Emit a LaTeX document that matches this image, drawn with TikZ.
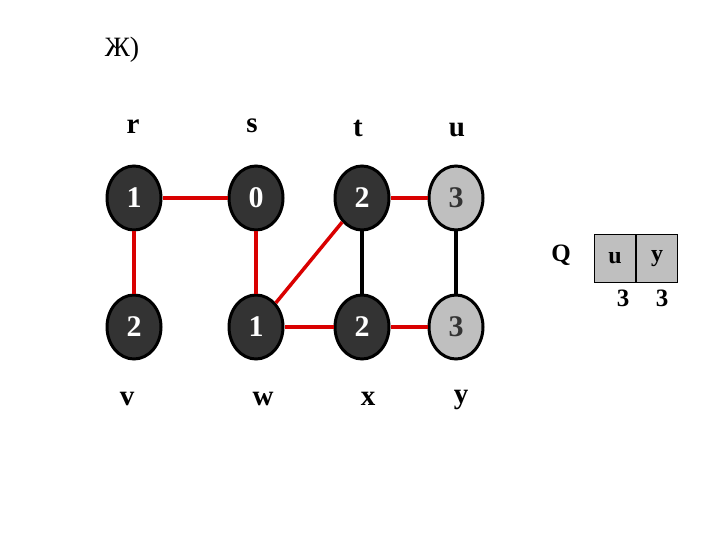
\documentclass[tikz,border=0pt]{standalone}
\usepackage{fontspec}
\setmainfont{Liberation Serif}
\usetikzlibrary{shapes.geometric}
\begin{document}
\begin{tikzpicture}[x=1pt,y=-1pt,
  vert/.style={ellipse,draw=black,line width=3pt,minimum width=54pt,minimum height=64pt,inner sep=0pt,font=\fontsize{30}{32}\selectfont\bfseries},
  dark/.style={vert,fill=black!80,text=white},
  light/.style={vert,fill=black!25,text=black!80},
  lbl/.style={font=\fontsize{29}{31}\selectfont\bfseries},
  redge/.style={draw=red!85!black,line width=3.5pt},
  bedge/.style={draw=black,line width=3.5pt},
  qbox/.style={draw=black,line width=1.2pt,fill=black!25,minimum width=41pt,minimum height=48pt,inner sep=0pt,anchor=north west,font=\fontsize{24}{26}\selectfont\bfseries},
  qlbl/.style={font=\fontsize{25}{27}\selectfont\bfseries}]
\useasboundingbox (0,0) rectangle (720,540);
\node[font=\fontsize{28}{30}\selectfont] (title) at (122,50) {Ж)};
% vertex labels
\node[lbl] (lr) at (133,127) {r};
\node[lbl] (ls) at (252,126) {s};
\node[lbl] (lt) at (358,128) {t};
\node[lbl] (lu) at (457,130) {u};
\node[lbl] (lv) at (127,399) {v};
\node[lbl] (lw) at (263,399) {w};
\node[lbl] (lx) at (368,399) {x};
\node[lbl] (ly) at (461,400) {y};
% vertices
\node[dark] (r) at (134,198) {1};
\node[dark] (s) at (256,198) {0};
\node[dark] (t) at (362,198) {2};
\node[light] (u) at (456,198) {3};
\node[dark] (v) at (134,327) {2};
\node[dark] (w) at (256,327) {1};
\node[dark] (x) at (362,327) {2};
\node[light] (y) at (456,327) {3};
% edges
\draw[redge] (r) -- (s);
\draw[redge] (r) -- (v);
\draw[redge] (s) -- (w);
\draw[redge] (w) -- (t);
\draw[redge] (t) -- (u);
\draw[redge] (w) -- (x);
\draw[redge] (x) -- (y);
\draw[bedge] (t) -- (x);
\draw[bedge] (u) -- (y);
% queue
\node[qlbl] (Q) at (561,255) {Q};
\node[qbox] (qu) at (594,234) {u};
\node[qbox] (qy) at (636,234) {y};
\node[qlbl] (du) at (623,298) {3};
\node[qlbl] (dy) at (662,298) {3};
\end{tikzpicture}
\end{document}
